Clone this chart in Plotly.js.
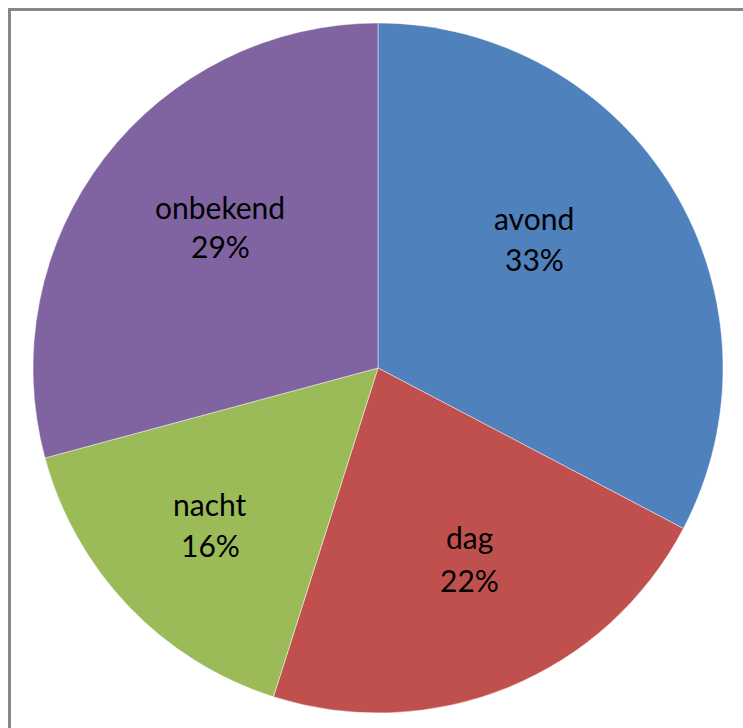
<!DOCTYPE html>
<html>
<head>
<meta charset="utf-8">
<script src="https://cdn.plot.ly/plotly-3.0.1.min.js"></script>
<style>
html,body{margin:0;padding:0;background:#fff;}
#chart{width:743px;height:728px;}
</style>
</head>
<body>
<div id="chart"></div>
<script>
const categories = ["avond", "dag", "nacht", "onbekend"];
const values = [32.7, 22.2, 15.9, 29.2];
const colors = ["#4F81BD", "#C0504D", "#9BBB59", "#8064A2"];

const W = 743, H = 728;

// label placement (layout only, in pixels): [x centre, name line y, percent line y]
const labelPlacement = [[534, 218, 259], [470, 537, 580], [210, 504, 545], [220, 207, 246]];

const total = values.reduce((a, b) => a + b, 0);
const font = {family: "Lato, 'Open Sans', sans-serif", size: 30, color: "#000"};
const annotations = [];
categories.forEach((c, i) => {
  const p = labelPlacement[i];
  const pct = Math.round(values[i] / total * 100) + "%";
  annotations.push({text: c, x: p[0] / W, y: 1 - p[1] / H, xref: "paper", yref: "paper",
    xanchor: "center", yanchor: "middle", showarrow: false, font: font});
  annotations.push({text: pct, x: p[0] / W, y: 1 - p[2] / H, xref: "paper", yref: "paper",
    xanchor: "center", yanchor: "middle", showarrow: false, font: font});
});

const trace = {
  type: "pie",
  labels: categories,
  values: values,
  sort: false,
  direction: "clockwise",
  rotation: 0,
  marker: {colors: colors, line: {color: "rgba(255,255,255,0.45)", width: 1}},
  textinfo: "none",
  hoverinfo: "none",
  showlegend: false,
  domain: {x: [33 / W, 723 / W], y: [1 - 713 / H, 1 - 23 / H]}
};

const layout = {
  width: W, height: H,
  margin: {l: 0, r: 0, t: 0, b: 0},
  paper_bgcolor: "#fff",
  showlegend: false,
  annotations: annotations,
  shapes: [{
    type: "rect", xref: "paper", yref: "paper",
    x0: 9.5 / W, x1: 1.2, y0: -0.2, y1: 1 - 9.5 / H,
    line: {color: "#878787", width: 3}, fillcolor: "rgba(0,0,0,0)", layer: "below"
  }]
};

Plotly.newPlot("chart", [trace], layout, {displayModeBar: false, staticPlot: true});
</script>
</body>
</html>
